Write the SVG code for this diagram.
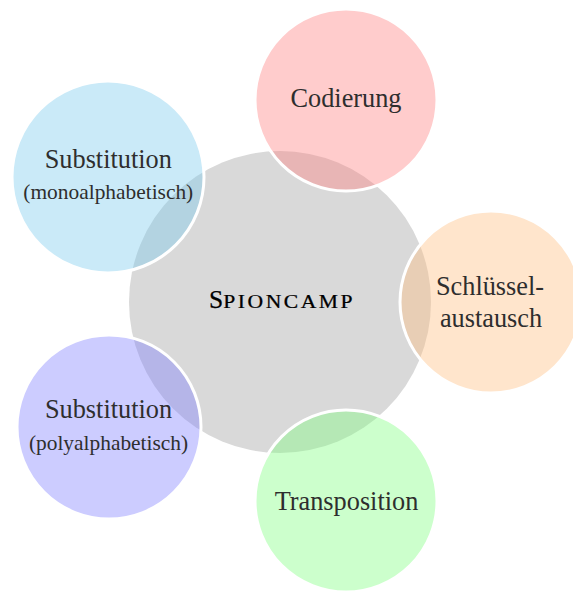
<svg xmlns="http://www.w3.org/2000/svg" width="573" height="595" viewBox="0 0 573 595">
<style>
.sat{stroke:#fff;stroke-width:3;fill-opacity:0.4}
.t{font-family:"Liberation Serif","DejaVu Serif",serif;fill:#2e2e2e;text-anchor:middle}
.big{font-size:26.3px}
.small{font-size:21.4px}
.sc{font-family:"Liberation Serif","DejaVu Serif",serif;fill:#000;stroke:#000;stroke-width:0.25}
</style>
<rect width="573" height="595" fill="#fff"/>
<g id="center">
<circle cx="280" cy="302" r="151" fill="#d9d9d9"/>
</g>
<g id="codierung">
<circle class="sat" cx="346" cy="100" r="91" fill="#ff8080"/>
<text class="t big" x="346" y="107">Codierung</text>
</g>
<g id="schluesselaustausch">
<circle class="sat" cx="491" cy="302" r="91" fill="#ffbf80"/>
<text class="t big" x="490" y="295">Schlüssel-</text>
<text class="t big" x="491" y="327">austausch</text>
</g>
<g id="transposition">
<circle class="sat" cx="346" cy="501" r="91" fill="#80ff80"/>
<text class="t big" x="346.5" y="510">Transposition</text>
</g>
<g id="substitution-poly">
<circle class="sat" cx="109" cy="427" r="92" fill="#8080ff"/>
<text class="t big" x="108.5" y="418">Substitution</text>
<text class="t small" x="108.5" y="450">(polyalphabetisch)</text>
</g>
<g id="substitution-mono">
<circle class="sat" cx="108" cy="177" r="96" fill="#7bcbee"/>
<text class="t big" x="108.3" y="168">Substitution</text>
<text class="t small" x="108.3" y="199">(monoalphabetisch)</text>
</g>
<g id="center-label">
<text class="sc" x="209" y="308" font-size="25.5">S</text>
<text class="sc" transform="translate(223.3,308) scale(1.2,1)" font-size="18" letter-spacing="2.1">PIONCAMP</text>
</g>
</svg>
